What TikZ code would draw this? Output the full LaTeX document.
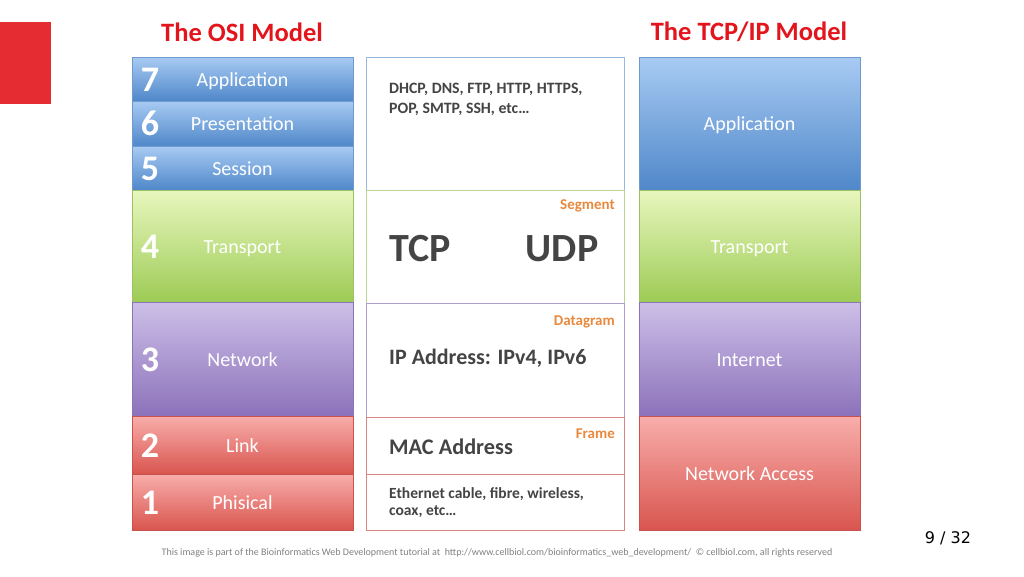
\documentclass[tikz,border=0pt]{standalone}
\usepackage{fontspec}
\setmainfont{Carlito}
\newfontfamily\pagefont{DejaVu Sans}

\definecolor{bluetop}{HTML}{A8CBF3}
\definecolor{bluebot}{HTML}{4F87C9}
\definecolor{blueline}{HTML}{6E9AD0}
\definecolor{greentop}{HTML}{E8F7BE}
\definecolor{greenbot}{HTML}{9DCB55}
\definecolor{greenline}{HTML}{9CC162}
\definecolor{purptop}{HTML}{CDBFE8}
\definecolor{purpbot}{HTML}{8C72BA}
\definecolor{purpline}{HTML}{8A74B8}
\definecolor{redtop}{HTML}{F8AEAB}
\definecolor{redbot}{HTML}{D9554F}
\definecolor{redline}{HTML}{C9524D}
\definecolor{titlered}{HTML}{E3141C}
\definecolor{labelorange}{HTML}{E9893D}
\definecolor{textgrey}{HTML}{444444}

\begin{document}
\begin{tikzpicture}[x=1pt, y=-1pt,
        every node/.style={inner sep=0pt, font=\fontsize{20}{22}\selectfont},
        layer/.style={rectangle, draw=#1line, top color=#1top, bottom color=#1bot, text=white,
            text height=14pt, text depth=0pt},
        osi/.style={layer=#1, minimum width=221},
        proto/.style={rectangle, draw=#1line!70, fill=white, minimum width=258},
        num/.style={text=white, text height=24pt, text depth=0pt, font=\fontsize{36}{36}\selectfont\bfseries},
        title/.style={text=titlered, font=\fontsize{26.5}{28}\selectfont\bfseries},
        unit/.style={anchor=east, text=labelorange, font=\fontsize{15}{16}\selectfont\bfseries},
        info/.style={anchor=west, align=left, text=textgrey, font=\fontsize{#1}{#1}\selectfont\bfseries}
    ]
    \useasboundingbox (0,0) rectangle (1024,576);
    \fill[titlered!90!white] (0,22) rectangle (51,104);

    % titles
    \node[title] (osititle) at (242,32) {The OSI Model};
    \node[title] (tcptitle) at (749,32) {The TCP/IP Model};

    % OSI model
    \node[osi=blue, minimum height=44] (o7) at (242.5,79) {Application};
    \node[osi=blue, minimum height=45] (o6) at (242.5,123.5) {Presentation};
    \node[osi=blue, minimum height=44] (o5) at (242.5,168) {Session};
    \node[osi=green, minimum height=112] (o4) at (242.5,246) {Transport};
    \node[osi=purp, minimum height=114] (o3) at (242.5,359) {Network};
    \node[osi=red, minimum height=58] (o2) at (242.5,445) {Link};
    \node[osi=red, minimum height=56] (o1) at (242.5,502) {Phisical};
    \foreach \n/\y in {7/79, 6/123.5, 5/168, 4/246, 3/359, 2/445, 1/502}
        \node[num] (num\n) at (150,\y) {\n};

    % protocols
    \node[proto=blue, minimum height=133] (p1) at (495,123.5) {};
    \node[proto=green, minimum height=113] (p2) at (495,246.5) {};
    \node[proto=purp, minimum height=114] (p3) at (495,360) {};
    \node[proto=red, minimum height=57] (p4) at (495,445.5) {};
    \node[proto=red, minimum height=56] (p5) at (495,502) {};

    \node[info=15.8, font=\fontsize{15.8}{20}\selectfont\bfseries] (apps) at (389,99)
        {DHCP, DNS, FTP, HTTP, HTTPS,\\POP, SMTP, SSH, etc\ldots};
    \node[unit] (segment) at (615,206) {Segment};
    \node[text=textgrey, font=\fontsize{40}{40}\selectfont\bfseries] (tcp) at (420,249) {TCP};
    \node[text=textgrey, font=\fontsize{40}{40}\selectfont\bfseries] (udp) at (562,249) {UDP};
    \node[unit] (datagram) at (615,322) {Datagram};
    \node[info=22] (ip) at (389,358) {IP Address: IPv4, IPv6};
    \node[unit] (frame) at (615,434) {Frame};
    \node[info=22.3] (mac) at (389,447) {MAC Address};
    \node[info=15.5, font=\fontsize{15.5}{17}\selectfont\bfseries] (media) at (389,503)
        {Ethernet cable, fibre, wireless,\\coax, etc\ldots};

    % TCP/IP model
    \node[layer=blue, minimum width=221, minimum height=133] (t4) at (749.5,123.5) {Application};
    \node[layer=green, minimum width=221, minimum height=112] (t3) at (749.5,246) {Transport};
    \node[layer=purp, minimum width=221, minimum height=114] (t2) at (749.5,359) {Internet};
    \node[layer=red, minimum width=221, minimum height=114] (t1) at (749.5,473) {Network Access};

    % footer
    \node[text=gray, font=\fontsize{10}{10}\selectfont] (credit) at (497,553)
        {This image is part of the Bioinformatics Web Development tutorial at\ \ http://www.cellbiol.com/bioinformatics\_web\_development/\ \ \textcopyright\ cellbiol.com, all rights reserved};
    \node[font=\pagefont\fontsize{16}{16}\selectfont] (page) at (948,538) {9 / 32};
\end{tikzpicture}
\end{document}
